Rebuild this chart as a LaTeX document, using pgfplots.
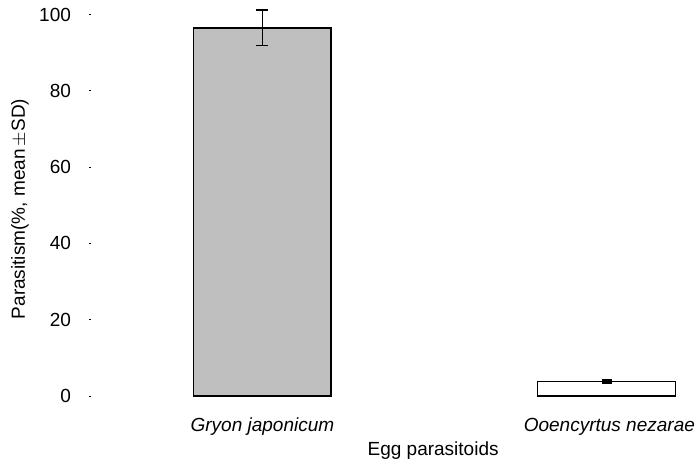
\documentclass[border=0pt]{standalone}
\usepackage{fontspec}
\setmainfont{Liberation Sans}
\usepackage{pgfplots}
\pgfplotsset{compat=1.18}
\begin{document}
\begin{tikzpicture}[font=\fontsize{9.5pt}{11pt}\selectfont]
\useasboundingbox (-44.5pt,-34pt) rectangle (304pt,198pt);
\begin{axis}[
  at={(0,0)}, anchor=south west,
  scale only axis,
  width=304pt, height=190.75pt,
  xmin=-0.504, xmax=1.263,
  ymin=0, ymax=100,
  clip=false,
  axis line style={draw=none},
  ytick={0,20,40,60,80,100},
  ytick pos=left,
  major tick length=1pt,
  ytick style={black, line width=0.4pt},
  xtick={0,1.257},
  xticklabels={\textit{Gryon japonicum},\llap{\textit{Ooencyrtus nezarae}}},
  xtick style={draw=none},
  /pgf/number format/assume math mode=true,
  y tick label style={anchor=east, xshift=-5.5pt},
  x tick label style={anchor=north, yshift=-7.5pt},
  xlabel={Egg parasitoids},
  xlabel style={at={(axis description cs:0.566,0)}, anchor=center, yshift=-27.5pt},
  ylabel={Parasitism(\%, mean\,$\pm$SD)},
  ylabel style={at={(axis description cs:0,0.49)}, anchor=center, yshift=34.5pt},
  bar width=0.40,
]
\addplot[ybar, fill=black!25, draw=black, line width=0.8pt,
  error bars/.cd, y dir=both, y explicit,
  error bar style={line width=0.6pt, black}, error mark options={rotate=90, mark size=3pt, line width=0.6pt}]
  coordinates {(0,96.5) +- (0,4.7)};
\addplot[ybar, fill=white, draw=black, line width=0.6pt,
  error bars/.cd, y dir=both, y explicit,
  error bar style={line width=0.6pt, black}, error mark options={rotate=90, mark size=2.5pt, line width=0.6pt}]
  coordinates {(1,3.8) +- (0,0.4)};
\end{axis}
\end{tikzpicture}
\end{document}
